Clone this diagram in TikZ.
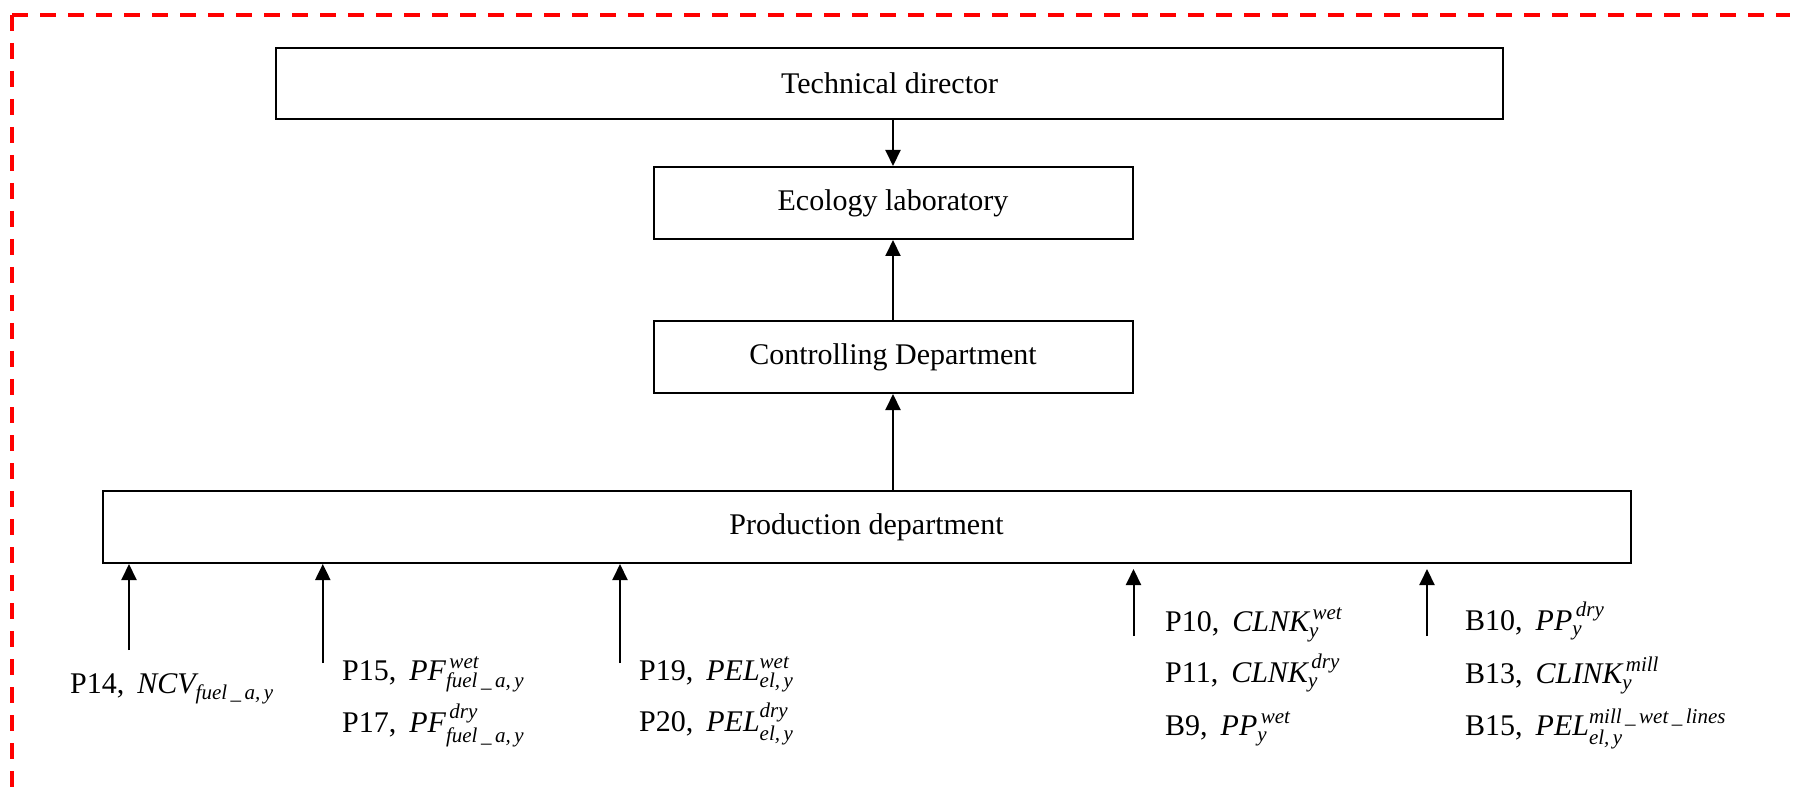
\documentclass[tikz,border=0pt]{standalone}
\usepackage{fontspec}
\usepackage{amsmath}
\setmainfont{Liberation Serif}
\usetikzlibrary{arrows.meta}
\newcommand{\gapsep}{\hspace{13pt}}
\begin{document}
\begin{tikzpicture}[x=1pt,y=-1pt,
  box/.style={draw,line width=2pt,rectangle,inner sep=0pt,font=\fontsize{30}{36}\selectfont},
  arr/.style={line width=2pt,-{Triangle[length=16pt,width=15pt]}},
  lbl/.style={anchor=base west,inner sep=0pt,font=\fontsize{30}{36}\selectfont},
  frame/.style={red,line width=4pt,dash pattern=on 16pt off 12pt}]
\useasboundingbox (0,0) rectangle (1796,791);
\coordinate (corner) at (12,15);
\coordinate (fr) at (1790,15);
\coordinate (fb) at (12,791);
\draw[frame] (corner) -- (fr);
\draw[frame] (corner) -- (fb);

\node[box, minimum width=1227pt, minimum height=71pt] (tech) at (889.6,83.5) {Technical director};
\node[box, minimum width=479pt, minimum height=72pt] (eco) at (893,203) {Ecology laboratory};
\node[box, minimum width=479pt, minimum height=72pt] (ctrl) at (893,357) {Controlling Department};
\node[box, minimum width=1528pt, minimum height=72pt] (prod) at (866.5,527) {Production department};

\draw[arr] (tech.south -| eco.north) -- (eco.north);
\draw[arr] (ctrl.north) -- (eco.south);
\draw[arr] (prod.north -| ctrl.south) -- (ctrl.south);

\coordinate (s1) at (129,650);
\coordinate (s2) at (322.8,663);
\coordinate (s3) at (620,663);
\coordinate (s4) at (1133.5,636);
\coordinate (s5) at (1427,636);
\draw[arr] (s1) -- (s1 |- prod.south);
\draw[arr] (s2) -- (s2 |- prod.south);
\draw[arr] (s3) -- (s3 |- prod.south);
\draw[arr] (s4) -- ([yshift=-5pt]s4 |- prod.south);
\draw[arr] (s5) -- ([yshift=-5pt]s5 |- prod.south);

\node[lbl] (l14) at (70,693) {P14,\gapsep$\textit{NCV}_{\textit{fuel\,\_\,a,\,y}}$};
\node[lbl] (l15) at (342,680) {P15,\gapsep$\textit{PF}^{\,\textit{wet}}_{\textit{fuel\,\_\,a,\,y}}$};
\node[lbl] (l17) at (342,732) {P17,\gapsep$\textit{PF}^{\,\textit{dry}}_{\textit{fuel\,\_\,a,\,y}}$};
\node[lbl] (l19) at (639,680) {P19,\gapsep$\textit{PEL}^{\textit{wet}}_{\textit{el,\,y}}$};
\node[lbl] (l20) at (639,731) {P20,\gapsep$\textit{PEL}^{\textit{dry}}_{\textit{el,\,y}}$};
\node[lbl] (l10) at (1165,631) {P10,\gapsep$\textit{CLNK}^{\,\textit{wet}}_{\textit{y}}$};
\node[lbl] (l11) at (1165,682) {P11,\gapsep$\textit{CLNK}^{\,\textit{dry}}_{\textit{y}}$};
\node[lbl] (b9) at (1165,735) {B9,\gapsep$\textit{PP}^{\,\textit{wet}}_{\textit{y}}$};
\node[lbl] (b10) at (1465,630) {B10,\gapsep$\textit{PP}^{\,\textit{dry}}_{\textit{y}}$};
\node[lbl] (b13) at (1465,683) {B13,\gapsep$\textit{CLINK}^{\,\textit{mill}}_{\textit{y}}$};
\node[lbl] (b15) at (1465,735) {B15,\gapsep$\textit{PEL}^{\textit{mill\,\_\,wet\,\_\,lines}}_{\textit{el,\,y}}$};
\end{tikzpicture}
\end{document}
